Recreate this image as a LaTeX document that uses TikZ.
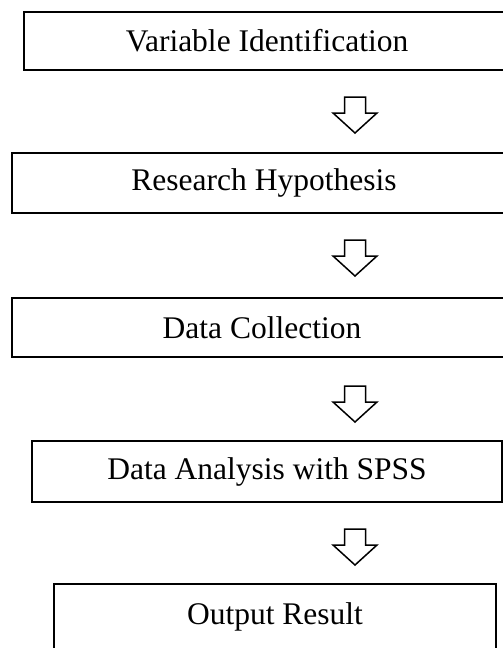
\documentclass[tikz,border=0pt]{standalone}
\usepackage{fontspec}
\setmainfont{Liberation Serif}
\usepackage{tikz}
\tikzset{
  stagebox/.style={rectangle, draw, line width=1.15pt, inner sep=0pt, font=\fontsize{15.75}{19}\selectfont},
  arrowline/.style={draw, line width=0.75pt, line join=miter},
  downarrow/.pic={\path[arrowline] (-10.5,0) -- (10.5,0) -- (10.5,16) -- (22,16) -- (0,36) -- (-22,16) -- (-10.5,16) -- cycle;},
}

\begin{document}
\begin{tikzpicture}[x=0.5pt, y=-0.5pt]
\clip (0,0) rectangle (503,648);
%Nodes
\node[stagebox, minimum width=243pt, minimum height=29pt] (varid) at (267,41) {Variable Identification};
\node[stagebox, minimum width=252pt, minimum height=30pt] (hypo) at (264,183) {Research Hypothesis};
\node[stagebox, minimum width=250pt, minimum height=29.5pt] (collect) at (262,327.5) {Data Collection};
\node[stagebox, minimum width=235pt, minimum height=30.5pt] (analysis) at (267,471.5) {Data Analysis with SPSS};
\node[stagebox, minimum width=221pt, minimum height=33pt] (result) at (275,617) {Output Result};

%Arrows
\pic at (355,97) {downarrow};
\pic at (355,240) {downarrow};
\pic at (355,386) {downarrow};
\pic at (355,529) {downarrow};
\end{tikzpicture}
\end{document}
